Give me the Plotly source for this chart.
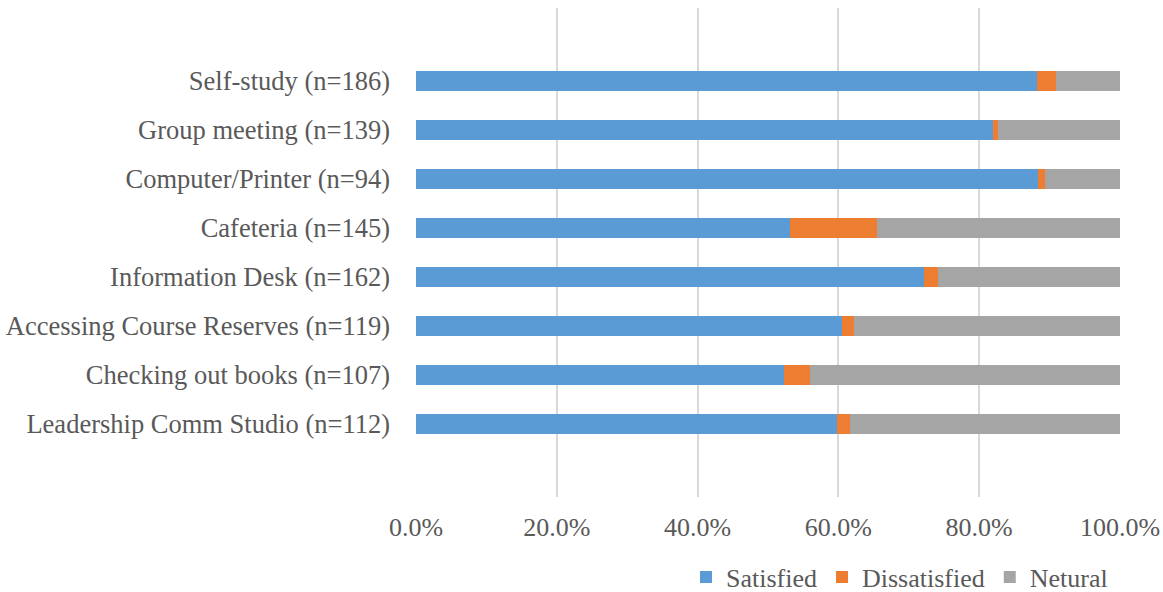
import plotly.graph_objects as go

categories = [
    "Leadership Comm Studio (n=112)",
    "Checking out books (n=107)",
    "Accessing Course Reserves (n=119)",
    "Information Desk (n=162)",
    "Cafeteria (n=145)",
    "Computer/Printer (n=94)",
    "Group meeting (n=139)",
    "Self-study (n=186)",
]
satisfied = [59.8, 52.3, 60.5, 72.2, 53.1, 88.3, 82.0, 88.2]
dissatisfied = [1.8, 3.7, 1.7, 1.9, 12.4, 1.1, 0.7, 2.7]
netural = [38.4, 44.0, 37.8, 25.9, 34.5, 10.6, 17.3, 9.1]

series = [
    ("Satisfied", satisfied, "#5B9BD5"),
    ("Dissatisfied", dissatisfied, "#ED7D31"),
    ("Netural", netural, "#A5A5A5"),
]

fig = go.Figure()
for name, vals, color in series:
    fig.add_trace(go.Bar(
        y=categories, x=vals, name=name, orientation="h",
        marker=dict(color=color, line=dict(width=0)),
    ))

FAMILY = "'Liberation Serif', 'Times New Roman', serif"

fig.update_layout(
    width=1163, height=592,
    barmode="stack", bargap=0.59,
    paper_bgcolor="white", plot_bgcolor="white",
    margin=dict(l=416, r=43, t=8, b=95, autoexpand=False),
    font=dict(family=FAMILY, size=26, color="#595959"),
    showlegend=True,
    legend=dict(orientation="h", xref="container", x=0.957, xanchor="right",
                yref="container", y=0.025, yanchor="middle",
                font=dict(family=FAMILY, size=26, color="#595959"),
                traceorder="normal", itemclick=False, itemwidth=30),
    xaxis=dict(range=[0, 100], dtick=20, tickformat=".1f", ticksuffix="%",
               showgrid=True, gridcolor="#D9D9D9", gridwidth=2,
               zeroline=False, showline=False, ticks="", ticklabelstandoff=12,
               automargin=False,
               tickfont=dict(family=FAMILY, size=26, color="#595959")),
    yaxis=dict(range=[-1.49, 8.49], categoryorder="array", categoryarray=categories,
               showgrid=False, zeroline=False, showline=False, ticks="",
               ticklabelstandoff=25, automargin=False,
               tickfont=dict(family=FAMILY, size=26.5, color="#595959")),
)

fig.write_html("out.html")
